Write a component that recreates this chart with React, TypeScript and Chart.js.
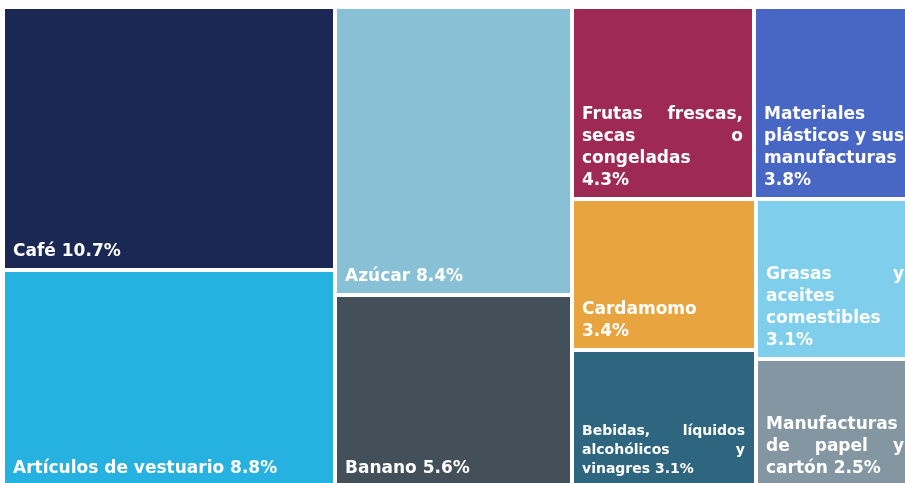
import React, { useEffect, useRef } from "react";
import { Chart, registerables } from "chart.js";

Chart.register(...registerables);

// Categories (a "\n" marks where the original label wraps; a trailing "\n" puts the percentage on its own line)
const categories = [
  "Café",
  "Artículos de vestuario",
  "Azúcar",
  "Banano",
  "Frutas frescas,\nsecas o\ncongeladas\n",
  "Materiales\nplásticos y sus\nmanufacturas\n",
  "Cardamomo\n",
  "Bebidas, líquidos\nalcohólicos y\nvinagres",
  "Grasas y\naceites\ncomestibles\n",
  "Manufacturas\nde papel y\ncartón",
];

// Share of exports (%)
const values = [10.7, 8.8, 8.4, 5.6, 4.3, 3.8, 3.4, 3.1, 3.1, 2.5];

const colors = [
  "#1C2854",
  "#25B2E1",
  "#88C0D6",
  "#434F59",
  "#9E2A54",
  "#4866C4",
  "#E7A43F",
  "#2F667F",
  "#7FCFEC",
  "#8596A3",
];

const labelFontSizes = [17, 17, 17, 17, 17, 17, 17, 14, 17, 17];

type R = { x: number; y: number; w: number; h: number };

function worst(row: number[], side: number): number {
  const s = row.reduce((a, b) => a + b, 0);
  let m = 0;
  for (const r of row) {
    const a = (side * side * r) / (s * s);
    const b = (s * s) / (side * side * r);
    m = Math.max(m, a, b);
  }
  return m;
}

// Squarified treemap in pixel aspect, returned normalized to 0..100
function squarify(vals: number[], W: number, H: number): R[] {
  const total = vals.reduce((a, b) => a + b, 0);
  const areas = vals.map((v) => (v * W * H) / total);
  const out: R[] = [];
  let x = 0, y = 0, w = W, h = H;
  let i = 0;
  while (i < areas.length) {
    const side = Math.min(w, h);
    const row: number[] = [areas[i]];
    let j = i + 1;
    while (j < areas.length && worst([...row, areas[j]], side) <= worst(row, side)) {
      row.push(areas[j]);
      j++;
    }
    const s = row.reduce((a, b) => a + b, 0);
    if (w >= h) {
      const cw = s / h;
      let yy = y;
      for (const a of row) {
        const rh = a / cw;
        out.push({ x, y: yy, w: cw, h: rh });
        yy += rh;
      }
      x += cw;
      w -= cw;
    } else {
      const rh = s / w;
      let xx = x;
      for (const a of row) {
        const rw = a / rh;
        out.push({ x: xx, y, w: rw, h: rh });
        xx += rw;
      }
      y += rh;
      h -= rh;
    }
    i = j;
  }
  return out.map((r) => ({
    x: (r.x / W) * 100,
    y: (r.y / H) * 100,
    w: (r.w / W) * 100,
    h: (r.h / H) * 100,
  }));
}

const treemapPlugin = {
  id: "treemapDraw",
  afterDatasetsDraw(chart: any) {
    const { ctx, chartArea, scales } = chart;
    const xs = scales.x;
    const ys = scales.y;
    const rects = squarify(values, chartArea.right - chartArea.left, chartArea.bottom - chartArea.top);
    const gap = 2;
    ctx.save();
    rects.forEach((r, idx) => {
      const x0 = xs.getPixelForValue(r.x);
      const x1 = xs.getPixelForValue(r.x + r.w);
      const y0 = ys.getPixelForValue(r.y);
      const y1 = ys.getPixelForValue(r.y + r.h);
      const left = Math.round(x0) + (r.x < 0.001 ? 1 : gap);
      const right = Math.round(x1) - gap;
      const top = Math.round(y0) + gap;
      const bottom = Math.round(y1) - gap;
      ctx.fillStyle = colors[idx];
      ctx.fillRect(left, top, right - left, bottom - top);

      // label
      const fs = labelFontSizes[idx];
      ctx.font = `bold ${fs}px "DejaVu Sans"`;
      ctx.fillStyle = "#FFFFFF";
      ctx.textBaseline = "alphabetic";
      ctx.textAlign = "left";
      const cat = categories[idx];
      const pct = values[idx].toFixed(1) + "%";
      const text = cat.endsWith("\n") ? cat + pct : cat + " " + pct;
      const lines = text.split("\n").map((l) => l.trim());
      const padL = 8;
      const padR = 9;
      const inner = right - left - padL - padR;
      const lineH = fs + 5;
      const baseY = bottom - 12;
      const n = lines.length;
      lines.forEach((line, li) => {
        const yy = baseY - (n - 1 - li) * lineH;
        const words = line.split(" ");
        if (li < n - 1 && words.length > 1) {
          const widths = words.map((wd) => ctx.measureText(wd).width);
          const sum = widths.reduce((a, b) => a + b, 0);
          let g = (inner - sum) / (words.length - 1);
          if (g < 2) g = 2;
          let xx = left + padL;
          words.forEach((wd, k) => {
            ctx.fillText(wd, xx, yy);
            xx += widths[k] + g;
          });
        } else {
          ctx.fillText(line, left + padL, yy);
        }
      });
    });
    ctx.restore();
  },
};

export default function App() {
  const ref = useRef<HTMLCanvasElement | null>(null);
  useEffect(() => {
    if (!ref.current) return;
    const chart = new Chart(ref.current, {
      type: "scatter",
      data: {
        datasets: [{ label: "Exportaciones", data: [] }],
      },
      options: {
        animation: false,
        responsive: false,
        maintainAspectRatio: false,
        layout: { padding: { left: 4, top: 7, right: 5, bottom: 5 } },
        plugins: { legend: { display: false }, tooltip: { enabled: false } },
        scales: {
          x: { type: "linear", min: 0, max: 100, display: false },
          y: { type: "linear", min: 0, max: 100, reverse: true, display: false },
        },
      },
      plugins: [treemapPlugin],
    });
    return () => chart.destroy();
  }, []);
  return (
    <div
      style={{
        position: "fixed",
        left: 0,
        top: 0,
        width: 905,
        height: 483,
        overflow: "hidden",
        background: "#FFFFFF",
      }}
    >
      <canvas ref={ref} width={920} height={492} style={{ display: "block", width: 920, height: 492 }} />
    </div>
  );
}
